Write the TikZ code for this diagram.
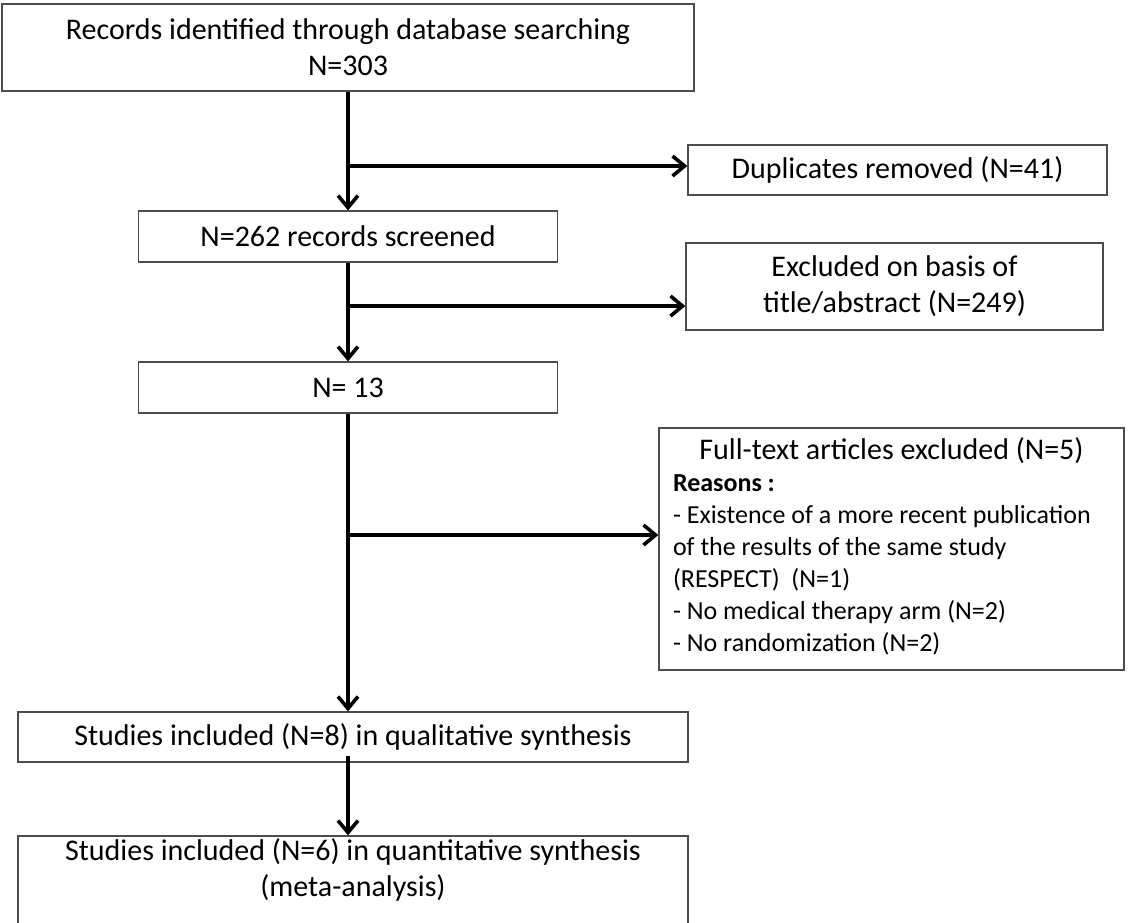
\documentclass[tikz,border=0pt]{standalone}
\usepackage{fontspec}
\setmainfont{Carlito}
\usetikzlibrary{calc, arrows.meta, positioning}

\begin{document}
\begin{tikzpicture}[x=1pt, y=-1pt,
        box/.style={draw=black!70, line width=1.3pt, inner sep=0pt, align=center,
            font=\fontsize{30}{36}\selectfont},
        arr/.style={line width=3.6pt, -{Straight Barb[length=12pt, width=20pt]}}]
        % output area
        \useasboundingbox (0,0) rectangle (1128,922);
        \clip (0,0) rectangle (1128,922);

        \node[box, minimum width=692, minimum height=87] (R) at (348,47.5)
            {Records identified through database searching\\N=303};
        \node[box, minimum width=419, minimum height=51] (S) at (348,236.5) {N=262 records screened};
        \node[box, minimum width=419, minimum height=50] (D) at (897.5,170) {Duplicates removed (N=41)};
        \node[box, minimum width=417, minimum height=87] (E) at (894.5,286.5)
            {Excluded on basis of\\title/abstract (N=249)};
        \node[box, minimum width=419, minimum height=51] (T) at (348,387.5) {N= 13};
        \node[box, minimum width=465, minimum height=242,
            font=\fontsize{26}{32}\selectfont] (F) at (891.5,549)
            {\begin{tabular}{@{}p{437pt}@{}}
             \multicolumn{1}{@{}c@{}}{\fontsize{30}{32}\selectfont Full-text articles excluded (N=5)}\\
             \textbf{Reasons :}\\
             - Existence of a more recent publication\\
             of the results of the same study\\
             (RESPECT)~~(N=1)\\
             - No medical therapy arm (N=2)\\
             - No randomization (N=2)
             \end{tabular}};
        \node[box, minimum width=670, minimum height=50] (I) at (353,737)
            {Studies included (N=8) in qualitative synthesis};
        \node[box, minimum width=670, minimum height=100] (Q) at (353,886)
            {Studies included (N=6) in quantitative synthesis\\(meta-analysis)\\~};

        % branch points
        \coordinate (J1) at (348,166);
        \coordinate (J2) at (348,306);
        \coordinate (J3) at (348,535);
        \coordinate (K)  at ($(I.south -| T.south)+(0,-7)$);

        \draw[arr] (R.south) -- (S.north);
        \draw[arr] (J1) -- (J1 -| D.west);
        \draw[arr] (S.south) -- (T.north);
        \draw[arr] (J2) -- (J2 -| E.west);
        \draw[arr] (T.south) -- (T.south |- I.north);
        \draw[arr] (J3) -- (J3 -| F.west);
        \draw[arr] (K) -- (K |- Q.north);

    \end{tikzpicture}
\end{document}
